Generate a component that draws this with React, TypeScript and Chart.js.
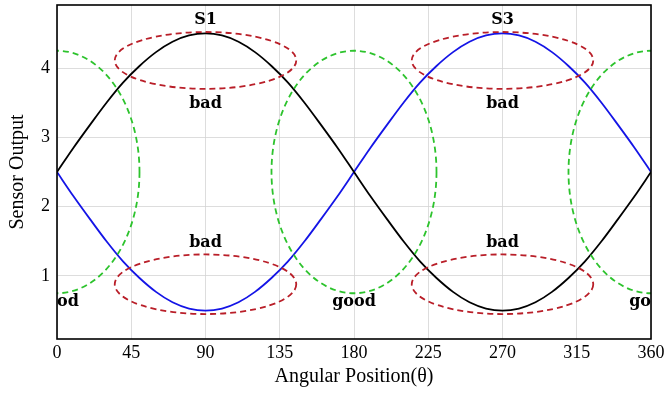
import React, { useEffect, useRef } from "react";
import { Chart, registerables } from "chart.js";

Chart.register(...registerables);

const angles = [0, 10, 20, 30, 40, 50, 60, 70, 80, 90, 100, 110, 120, 130, 140, 150, 160, 170, 180,
  190, 200, 210, 220, 230, 240, 250, 260, 270, 280, 290, 300, 310, 320, 330, 340, 350, 360];
const s1Values = [2.5, 2.85, 3.18, 3.5, 3.79, 4.03, 4.23, 4.38, 4.47, 4.5, 4.47, 4.38, 4.23, 4.03, 3.79, 3.5, 3.18, 2.85, 2.5,
  2.15, 1.82, 1.5, 1.21, 0.97, 0.77, 0.62, 0.53, 0.5, 0.53, 0.62, 0.77, 0.97, 1.21, 1.5, 1.82, 2.15, 2.5];
const s3Values = [2.5, 2.15, 1.82, 1.5, 1.21, 0.97, 0.77, 0.62, 0.53, 0.5, 0.53, 0.62, 0.77, 0.97, 1.21, 1.5, 1.82, 2.15, 2.5,
  2.85, 3.18, 3.5, 3.79, 4.03, 4.23, 4.38, 4.47, 4.5, 4.47, 4.38, 4.23, 4.03, 3.79, 3.5, 3.18, 2.85, 2.5];

const xTicks = [0, 45, 90, 135, 180, 225, 270, 315, 360];
const yTicks = [1, 2, 3, 4];

// "bad" regions (red dashed) and "good" regions (green dashed): center x, center y, radius x, radius y
const badCx = [90, 270, 90, 270];
const badCy = [4.11, 4.11, 0.88, 0.88];
const badRx = [55, 55, 55, 55];
const badRy = [0.41, 0.41, 0.43, 0.43];
const goodCx = [0, 180, 360];
const goodCy = [2.5, 2.5, 2.5];
const goodRx = [50, 50, 50];
const goodRy = [1.75, 1.75, 1.75];

const labelTexts = ["S1", "S3", "bad", "bad", "bad", "bad", "good", "good", "good"];
const labelX = [90, 270, 90, 270, 90, 270, 0, 180, 360];
const labelY = [4.69, 4.69, 3.48, 3.48, 1.48, 1.48, 0.62, 0.62, 0.62];

const FONT = "'Liberation Serif', 'DejaVu Serif', serif";
const LABEL_FONT = "'DejaVu Serif', 'Liberation Serif', serif";

const overlayPlugin = {
  id: "overlay",
  afterDatasetsDraw(chart: any) {
    const { ctx, chartArea, scales } = chart;
    const x = scales.x;
    const y = scales.y;
    ctx.save();
    ctx.beginPath();
    ctx.rect(chartArea.left, chartArea.top, chartArea.right - chartArea.left, chartArea.bottom - chartArea.top);
    ctx.clip();
    ctx.lineWidth = 1.8;
    ctx.setLineDash([6, 4]);
    const drawE = (cx: number, cy: number, rx: number, ry: number, color: string) => {
      const px = x.getPixelForValue(cx);
      const py = y.getPixelForValue(cy);
      const prx = Math.abs(x.getPixelForValue(cx + rx) - px);
      const pry = Math.abs(y.getPixelForValue(cy + ry) - py);
      ctx.beginPath();
      ctx.strokeStyle = color;
      ctx.ellipse(px, py, prx, pry, 0, 0, Math.PI * 2);
      ctx.stroke();
    };
    for (let i = 0; i < goodCx.length; i++) drawE(goodCx[i], goodCy[i], goodRx[i], goodRy[i], "rgb(45,195,45)");
    for (let i = 0; i < badCx.length; i++) drawE(badCx[i], badCy[i], badRx[i], badRy[i], "rgb(185,30,40)");
    ctx.setLineDash([]);
    ctx.fillStyle = "#000";
    ctx.textAlign = "center";
    ctx.textBaseline = "middle";
    for (let i = 0; i < labelTexts.length; i++) {
      ctx.font = `bold 16px ${LABEL_FONT}`;
      ctx.fillText(labelTexts[i], x.getPixelForValue(labelX[i]), y.getPixelForValue(labelY[i]));
    }
    ctx.restore();
  },
  afterDraw(chart: any) {
    const { ctx, chartArea } = chart;
    ctx.save();
    ctx.strokeStyle = "#000";
    ctx.lineWidth = 1.6;
    ctx.strokeRect(chartArea.left, chartArea.top, chartArea.right - chartArea.left, chartArea.bottom - chartArea.top);
    ctx.restore();
  },
};

export default function App() {
  const ref = useRef<HTMLCanvasElement | null>(null);
  useEffect(() => {
    document.body.style.margin = "0";
    const canvas = ref.current;
    if (!canvas) return;
    const chart = new Chart(canvas, {
      type: "line",
      data: {
        datasets: [
          {
            label: "S1",
            data: angles.map((a, i) => ({ x: a, y: s1Values[i] })),
            borderColor: "#000",
            borderWidth: 1.8,
            pointRadius: 0,
            cubicInterpolationMode: "monotone",
            fill: false,
          },
          {
            label: "S3",
            data: angles.map((a, i) => ({ x: a, y: s3Values[i] })),
            borderColor: "rgb(20,20,230)",
            borderWidth: 1.8,
            pointRadius: 0,
            cubicInterpolationMode: "monotone",
            fill: false,
          },
        ],
      },
      options: {
        animation: false,
        responsive: false,
        layout: { padding: { top: 5, right: 14, left: 0, bottom: 0 } },
        plugins: { legend: { display: false }, tooltip: { enabled: false } },
        scales: {
          x: {
            type: "linear",
            min: 0,
            max: 360,
            afterBuildTicks: (s: any) => { s.ticks = xTicks.map((v) => ({ value: v })); },
            afterFit: (s: any) => { s.height = 55; s.paddingLeft = 0; s.paddingRight = 0; },
            ticks: { color: "#000", font: { family: FONT, size: 18 }, padding: 3, maxRotation: 0, autoSkip: false },
            grid: { color: "#d4d4d4", lineWidth: 0.8, drawTicks: false },
            border: { display: false },
            title: { display: true, text: "Angular Position(θ)", color: "#000", font: { family: FONT, size: 20 }, padding: { top: 0, bottom: 5 } },
          },
          y: {
            type: "linear",
            min: 0.09,
            max: 4.91,
            afterBuildTicks: (s: any) => { s.ticks = yTicks.map((v) => ({ value: v })); },
            afterFit: (s: any) => { s.width = 57; s.paddingTop = 0; s.paddingBottom = 0; },
            ticks: { color: "#000", font: { family: FONT, size: 18 }, padding: 7 },
            grid: { color: "#d4d4d4", lineWidth: 0.8, drawTicks: false },
            border: { display: false },
            title: { display: true, text: "Sensor Output", color: "#000", font: { family: FONT, size: 20 }, padding: { top: 6, bottom: 0 } },
          },
        },
      },
      plugins: [overlayPlugin],
    } as any);
    return () => chart.destroy();
  }, []);
  return (
    <div style={{ position: "absolute", left: 0, top: 0, width: 665, height: 394 }}>
      <canvas ref={ref} width={665} height={394} />
    </div>
  );
}
